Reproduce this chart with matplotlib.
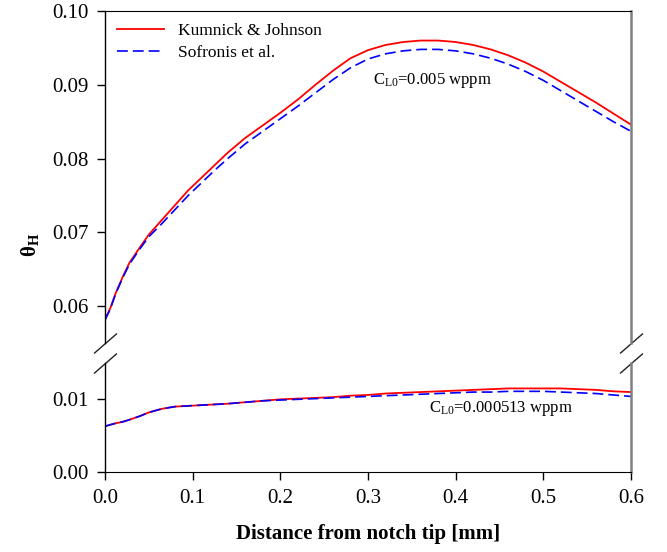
import numpy as np
import matplotlib
matplotlib.use('Agg')
import matplotlib.pyplot as plt

## data

distance = [0.000, 0.006, 0.012, 0.020, 0.028, 0.040, 0.050, 0.065, 0.080, 0.095,
            0.110, 0.125, 0.140, 0.160, 0.180, 0.200, 0.220, 0.240, 0.260, 0.280,
            0.300, 0.320, 0.340, 0.360, 0.380, 0.400, 0.420, 0.440, 0.460, 0.480,
            0.500, 0.520, 0.540, 0.560, 0.580, 0.600]

# C_L0 = 0.005 wppm
kumnick_hi = [0.0582, 0.0597, 0.0617, 0.0639, 0.0659, 0.0680, 0.0697, 0.0717, 0.0737, 0.0757,
              0.0774, 0.0791, 0.0808, 0.0828, 0.0845, 0.0862, 0.0880, 0.0900, 0.0919, 0.0936,
              0.0947, 0.0954, 0.0958, 0.0960, 0.0960, 0.0958, 0.0954, 0.0948, 0.0940, 0.0930,
              0.0918, 0.0904, 0.0890, 0.0876, 0.0861, 0.0846]
sofronis_hi = [0.0581, 0.0596, 0.0616, 0.0638, 0.0657, 0.0678, 0.0694, 0.0712, 0.0731, 0.0750,
               0.0767, 0.0784, 0.0800, 0.0820, 0.0837, 0.0854, 0.0871, 0.0889, 0.0907, 0.0923,
               0.0935, 0.0942, 0.0946, 0.0948, 0.0948, 0.0946, 0.0942, 0.0936, 0.0928, 0.0918,
               0.0906, 0.0892, 0.0878, 0.0864, 0.0850, 0.0837]

# C_L0 = 0.000513 wppm
kumnick_lo = [0.0063, 0.0065, 0.0067, 0.0069, 0.0072, 0.0077, 0.0082, 0.0087, 0.0090, 0.0091,
              0.0092, 0.0093, 0.0094, 0.0096, 0.0098, 0.0100, 0.0101, 0.0102, 0.0103, 0.0105,
              0.0106, 0.0108, 0.0109, 0.0110, 0.0111, 0.0112, 0.0113, 0.0114, 0.0115, 0.0115,
              0.0115, 0.0115, 0.0114, 0.0113, 0.0111, 0.0110]
sofronis_lo = [0.0063, 0.0065, 0.0067, 0.0069, 0.0072, 0.0077, 0.0082, 0.0087, 0.0090, 0.0091,
               0.0092, 0.0093, 0.0094, 0.0096, 0.0098, 0.0099, 0.0100, 0.0101, 0.0102, 0.0103,
               0.0104, 0.0105, 0.0106, 0.0107, 0.0108, 0.0109, 0.0110, 0.0110, 0.0111, 0.0111,
               0.0111, 0.0110, 0.0109, 0.0108, 0.0106, 0.0104]

x_ticks = [0.0, 0.1, 0.2, 0.3, 0.4, 0.5, 0.6]
y_ticks_hi = [0.06, 0.07, 0.08, 0.09, 0.10]
y_ticks_lo = [0.00, 0.01]

plt.rcParams['font.family'] = ['Liberation Serif', 'DejaVu Serif']
plt.rcParams['mathtext.fontset'] = 'custom'
plt.rcParams['mathtext.rm'] = 'Liberation Serif'
plt.rcParams['mathtext.it'] = 'Liberation Serif:italic'
plt.rcParams['mathtext.bf'] = 'Liberation Serif:bold'

fig = plt.figure(figsize=(6.67, 5.52), dpi=100)
ax_top = fig.add_axes([0.1574, 0.3786, 0.7886, 0.6014])
ax_bot = fig.add_axes([0.1574, 0.1449, 0.7886, 0.1975])

red_kw = dict(color='#ff0000', lw=1.3, ls='-')
blue_kw = dict(color='#0000ff', lw=1.2, ls=(0, (6.5, 3)))

ax_top.plot(distance, kumnick_hi, label='Kumnick & Johnson', **red_kw)
ax_top.plot(distance, sofronis_hi, label='Sofronis et al.', **blue_kw)
ax_bot.plot(distance, kumnick_lo, **red_kw)
ax_bot.plot(distance, sofronis_lo, **blue_kw)

for ax in (ax_top, ax_bot):
    ax.set_xlim(0, 0.6)
    ax.spines['right'].set_color('#808080')
    ax.spines['right'].set_linewidth(1.8)
    ax.spines['left'].set_linewidth(1.0)
    ax.tick_params(axis='both', direction='out', length=6, width=1.0,
                   labelsize=15, pad=6, right=False, top=False)

ax_top.set_ylim(0.055, 0.10)
ax_top.set_yticks(y_ticks_hi)
ax_top.set_yticklabels(['%.2f' % v for v in y_ticks_hi])
ax_top.spines['bottom'].set_visible(False)
ax_top.tick_params(axis='x', bottom=False, labelbottom=False)

ax_bot.set_ylim(0.0, 0.015)
ax_bot.set_yticks(y_ticks_lo)
ax_bot.set_yticklabels(['%.2f' % v for v in y_ticks_lo])
ax_bot.set_xticks(x_ticks)
ax_bot.set_xticklabels(['%.1f' % v for v in x_ticks])
ax_bot.spines['top'].set_visible(False)

# break marks
d = 0.87
brk = dict(marker=[(-1, -d), (1, d)], markersize=16.5, linestyle='none',
           color='#222222', mec='#222222', mew=1.0, clip_on=False)
ax_top.plot([0, 1], [0, 0], transform=ax_top.transAxes, **brk)
ax_bot.plot([0, 1], [1, 1], transform=ax_bot.transAxes, **brk)

ax_top.legend(loc='upper left', frameon=False, fontsize=12.5, handlelength=2.7,
              borderaxespad=0.3, labelspacing=0.3, bbox_to_anchor=(0.0, 1.0))

ax_top.text(0.306, 0.0906, r'C$_{\mathrm{L0}}$=0.005 wppm', fontsize=12, va='center')
ax_bot.text(0.37, 0.0088, r'C$_{\mathrm{L0}}$=0.000513 wppm', fontsize=12, va='center')

fig.text(0.045, 0.556, r'θ$_\mathbf{H}$', rotation=90, fontsize=15,
         fontweight='bold', ha='center', va='center')
ax_bot.set_xlabel('Distance from notch tip [mm]', fontsize=15, fontweight='bold', labelpad=12)

plt.savefig('out.png', dpi=100)
plt.close()
